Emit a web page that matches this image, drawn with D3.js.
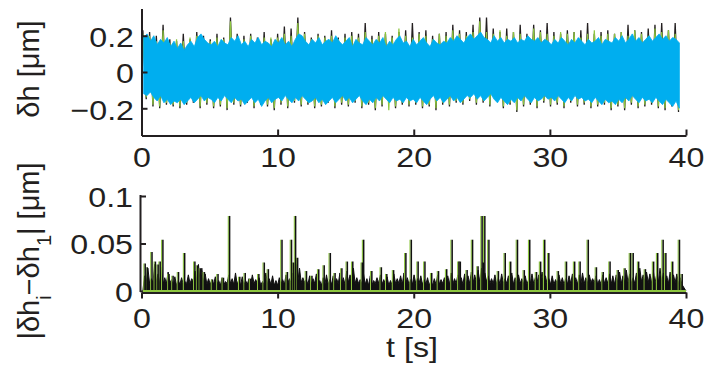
<!DOCTYPE html>
<html>
<head>
<meta charset="utf-8">
<script src="https://cdn.jsdelivr.net/npm/d3@7"></script>
<style>
  html, body { margin: 0; padding: 0; background: #fff; }
  svg { display: block; }
  text { font-family: "Liberation Sans", Arial, Helvetica, sans-serif; fill: #231f20; }
</style>
</head>
<body>
<svg id="chart" width="705" height="370"></svg>
<script>
// ---- time base ----------------------------------------------------------
const tStart = 0.1;          // first sample [s]
const fineStep = 0.2475;     // bin width of the cyan trace / difference peaks [s]
const coarseStep = 0.495;    // bin width of the black and green traces / difference floor [s]

// ---- top panel: height fluctuation δh [µm], per-bin maxima / minima ----
const cyanHigh = [
  0.19,0.21,0.17,0.20,0.15,0.18,0.16,0.19,0.14,0.17,
  0.13,0.16,0.12,0.15,0.17,0.14,0.19,0.21,0.18,0.16,
  0.15,0.17,0.14,0.18,0.16,0.15,0.19,0.17,0.20,0.15,
  0.17,0.14,0.18,0.16,0.19,0.15,0.17,0.16,0.14,0.18,
  0.16,0.19,0.15,0.17,0.14,0.18,0.21,0.20,0.17,0.15,
  0.18,0.16,0.19,0.15,0.17,0.18,0.16,0.20,0.17,0.15,
  0.17,0.19,0.14,0.18,0.16,0.15,0.19,0.17,0.15,0.18,
  0.16,0.19,0.14,0.17,0.15,0.18,0.20,0.16,0.17,0.14,
  0.18,0.15,0.17,0.19,0.16,0.14,0.18,0.16,0.15,0.17,
  0.16,0.19,0.17,0.20,0.18,0.16,0.19,0.21,0.18,0.20,
  0.22,0.19,0.18,0.16,0.20,0.17,0.19,0.16,0.18,0.17,
  0.19,0.16,0.18,0.17,0.20,0.18,0.17,0.19,0.16,0.18,
  0.17,0.15,0.18,0.16,0.19,0.17,0.15,0.18,0.16,0.19,
  0.17,0.15,0.18,0.16,0.17,0.19,0.15,0.18,0.17,0.16,
  0.19,0.17,0.20,0.16,0.18,0.21,0.17,0.19,0.16,0.18,
  0.20,0.17,0.19,0.21,0.18,0.20,0.17,0.19,0.18,0.16
];
const cyanLow = [
  -0.12,-0.13,-0.11,-0.14,-0.16,-0.13,-0.17,-0.15,-0.18,-0.16,
  -0.17,-0.15,-0.18,-0.16,-0.14,-0.17,-0.15,-0.13,-0.16,-0.14,
  -0.15,-0.17,-0.14,-0.16,-0.13,-0.15,-0.17,-0.14,-0.16,-0.15,
  -0.18,-0.16,-0.14,-0.17,-0.15,-0.19,-0.16,-0.14,-0.17,-0.15,
  -0.14,-0.16,-0.13,-0.15,-0.17,-0.14,-0.16,-0.13,-0.15,-0.17,
  -0.16,-0.14,-0.17,-0.15,-0.18,-0.16,-0.14,-0.17,-0.15,-0.13,
  -0.16,-0.14,-0.17,-0.15,-0.13,-0.16,-0.18,-0.15,-0.17,-0.14,
  -0.16,-0.13,-0.15,-0.17,-0.14,-0.16,-0.15,-0.17,-0.14,-0.16,
  -0.15,-0.17,-0.14,-0.16,-0.18,-0.15,-0.13,-0.16,-0.14,-0.17,
  -0.15,-0.13,-0.16,-0.14,-0.17,-0.15,-0.13,-0.14,-0.12,-0.15,
  -0.13,-0.16,-0.14,-0.12,-0.15,-0.17,-0.14,-0.16,-0.18,-0.15,
  -0.17,-0.14,-0.16,-0.13,-0.15,-0.17,-0.14,-0.16,-0.15,-0.13,
  -0.15,-0.14,-0.16,-0.13,-0.15,-0.17,-0.14,-0.16,-0.13,-0.15,
  -0.14,-0.16,-0.15,-0.17,-0.14,-0.16,-0.18,-0.15,-0.17,-0.16,
  -0.18,-0.15,-0.17,-0.14,-0.16,-0.13,-0.15,-0.17,-0.14,-0.16,
  -0.15,-0.17,-0.14,-0.16,-0.18,-0.15,-0.17,-0.19,-0.16,-0.20
];
const blackHigh = [
  0.23,0.22,0.20,0.26,0.18,0.17,0.21,0.18,0.22,0.20,
  0.18,0.21,0.19,0.30,0.21,0.20,0.21,0.19,0.22,0.18,
  0.21,0.25,0.24,0.30,0.22,0.19,0.21,0.20,0.23,0.19,
  0.21,0.22,0.21,0.27,0.20,0.22,0.21,0.20,0.22,0.23,
  0.27,0.22,0.23,0.20,0.21,0.22,0.26,0.23,0.22,0.26,
  0.30,0.30,0.24,0.22,0.24,0.22,0.26,0.21,0.26,0.23,
  0.27,0.22,0.21,0.23,0.22,0.23,0.27,0.21,0.22,0.23,
  0.21,0.22,0.26,0.23,0.22,0.24,0.26,0.27,0.23,0.27
];
const blackLow = [
  -0.15,-0.19,-0.20,-0.18,-0.19,-0.20,-0.18,-0.17,-0.20,-0.18,
  -0.20,-0.19,-0.21,-0.18,-0.19,-0.17,-0.20,-0.18,-0.19,-0.21,
  -0.18,-0.20,-0.17,-0.19,-0.18,-0.20,-0.19,-0.17,-0.20,-0.18,
  -0.19,-0.17,-0.20,-0.18,-0.21,-0.19,-0.17,-0.20,-0.18,-0.19,
  -0.18,-0.20,-0.19,-0.21,-0.18,-0.19,-0.17,-0.18,-0.16,-0.18,
  -0.17,-0.19,-0.16,-0.20,-0.18,-0.22,-0.19,-0.18,-0.20,-0.17,
  -0.19,-0.18,-0.20,-0.17,-0.19,-0.18,-0.20,-0.19,-0.18,-0.21,
  -0.19,-0.21,-0.18,-0.20,-0.19,-0.18,-0.20,-0.21,-0.19,-0.22
];
const greenHigh = [
  0.21,0.20,0.17,0.23,0.16,0.18,0.17,0.19,0.20,0.18,
  0.17,0.19,0.18,0.28,0.19,0.18,0.20,0.17,0.19,0.19,
  0.19,0.21,0.20,0.27,0.21,0.18,0.20,0.19,0.20,0.18,
  0.19,0.20,0.19,0.22,0.18,0.20,0.22,0.19,0.24,0.20,
  0.19,0.21,0.20,0.18,0.21,0.20,0.23,0.21,0.20,0.22,
  0.28,0.22,0.21,0.23,0.20,0.22,0.21,0.19,0.24,0.22,
  0.21,0.20,0.22,0.21,0.22,0.19,0.21,0.23,0.20,0.21,
  0.21,0.22,0.20,0.23,0.21,0.20,0.24,0.22,0.23,0.21
];
const greenLow = [
  -0.14,-0.18,-0.19,-0.17,-0.18,-0.19,-0.17,-0.16,-0.19,-0.17,
  -0.19,-0.18,-0.20,-0.17,-0.18,-0.16,-0.19,-0.17,-0.18,-0.20,
  -0.17,-0.19,-0.16,-0.18,-0.17,-0.19,-0.18,-0.16,-0.19,-0.17,
  -0.18,-0.16,-0.19,-0.17,-0.20,-0.18,-0.21,-0.19,-0.17,-0.18,
  -0.17,-0.19,-0.18,-0.20,-0.17,-0.18,-0.16,-0.17,-0.15,-0.17,
  -0.16,-0.18,-0.15,-0.19,-0.17,-0.21,-0.18,-0.17,-0.19,-0.16,
  -0.18,-0.17,-0.19,-0.16,-0.18,-0.17,-0.19,-0.18,-0.17,-0.20,
  -0.18,-0.20,-0.17,-0.19,-0.18,-0.17,-0.19,-0.20,-0.18,-0.21
];

// ---- bottom panel: |δh_i − δh_1| [µm] ----------------------------------
// dense trace: per fine-bin peaks and per coarse-bin floor
const diffPeak = [
  0.016,0.024,0.013,0.028,0.018,0.025,0.014,0.020,0.012,0.015,
  0.011,0.014,0.010,0.017,0.013,0.021,0.028,0.024,0.018,0.013,
  0.012,0.015,0.011,0.014,0.010,0.017,0.013,0.019,0.012,0.015,
  0.011,0.013,0.017,0.012,0.014,0.010,0.019,0.013,0.016,0.011,
  0.014,0.012,0.017,0.013,0.019,0.028,0.024,0.014,0.012,0.016,
  0.013,0.018,0.011,0.014,0.017,0.012,0.016,0.013,0.019,0.014,
  0.021,0.017,0.024,0.014,0.012,0.018,0.013,0.016,0.011,0.014,
  0.017,0.012,0.015,0.011,0.018,0.013,0.016,0.019,0.014,0.012,
  0.017,0.013,0.016,0.012,0.014,0.011,0.013,0.017,0.012,0.014,
  0.016,0.019,0.013,0.017,0.014,0.018,0.016,0.020,0.017,0.022,
  0.024,0.019,0.016,0.013,0.017,0.014,0.018,0.013,0.016,0.019,
  0.014,0.017,0.013,0.016,0.012,0.018,0.014,0.017,0.020,0.016,
  0.013,0.016,0.012,0.017,0.014,0.013,0.016,0.018,0.014,0.017,
  0.019,0.014,0.017,0.013,0.016,0.012,0.017,0.014,0.018,0.016,
  0.017,0.020,0.016,0.022,0.018,0.014,0.019,0.024,0.017,0.020,
  0.018,0.022,0.017,0.024,0.019,0.016,0.020,0.017,0.018,0.014
];
const diffFloor = [
  0.008,0.009,0.007,0.008,0.006,0.007,0.008,0.010,0.009,0.007,
  0.007,0.006,0.008,0.007,0.006,0.007,0.008,0.006,0.007,0.006,
  0.007,0.008,0.010,0.009,0.007,0.008,0.006,0.007,0.008,0.007,
  0.009,0.008,0.007,0.006,0.008,0.007,0.006,0.008,0.007,0.007,
  0.008,0.007,0.006,0.007,0.008,0.007,0.008,0.007,0.008,0.009,
  0.010,0.008,0.007,0.008,0.007,0.008,0.007,0.008,0.009,0.007,
  0.007,0.008,0.007,0.008,0.007,0.008,0.009,0.007,0.008,0.007,
  0.008,0.009,0.008,0.010,0.009,0.008,0.009,0.008,0.009,0.007
];
// isolated excursions: time [s] and height [µm]
const spikeTime = [
  0.25,0.4,0.75,1.0,1.2,1.35,1.55,2.0,2.3,2.7,3.15,3.9,4.1,4.3,4.6,5.2,5.6,6.0,6.45,
  7.2,7.6,8.0,8.6,9.0,9.3,10.3,10.7,11.0,11.15,11.3,11.45,12.1,12.5,13.0,13.4,13.85,14.2,14.7,
  15.1,15.5,16.2,16.3,16.9,17.6,18.0,18.5,19.4,19.8,20.3,20.8,21.3,21.8,22.4,22.8,23.3,23.4,
  23.9,24.3,24.7,25.0,25.1,25.2,25.5,26.2,26.7,27.1,27.6,28.1,28.5,29.0,29.3,29.6,29.9,30.6,31.2,31.8,
  32.2,32.8,33.4,33.9,34.4,35.0,35.5,35.9,36.1,36.5,37.0,37.6,37.9,38.3,38.5,39.0,39.5,39.7
];
const spikeValue = [
  0.029,0.025,0.041,0.031,0.028,0.031,0.054,0.018,0.016,0.020,0.040,0.031,0.027,0.024,0.020,0.012,0.018,0.014,0.079,
  0.015,0.019,0.013,0.018,0.030,0.023,0.054,0.020,0.054,0.030,0.079,0.035,0.021,0.016,0.023,0.027,0.040,0.019,0.024,
  0.031,0.031,0.030,0.054,0.021,0.025,0.018,0.022,0.040,0.054,0.031,0.031,0.019,0.021,0.023,0.054,0.031,0.031,
  0.022,0.054,0.026,0.079,0.030,0.079,0.054,0.021,0.040,0.031,0.054,0.022,0.054,0.020,0.031,0.054,0.040,0.021,0.031,0.031,
  0.031,0.054,0.025,0.020,0.031,0.022,0.024,0.040,0.040,0.031,0.023,0.031,0.040,0.054,0.040,0.031,0.054,0.018
];
// reference trace |δh_1 − δh_1|
const refTime = [0.1, 40];
const refDiff = [0, 0];

// ---- ticks ---------------------------------------------------------------
const timeTicks = [0, 10, 20, 30, 40];
const heightTicks = [-0.2, 0, 0.2];
const diffTicks = [0, 0.05, 0.1];

// ---- colours -------------------------------------------------------------
const INK = "#231f20", CYAN = "#00aeef", GREEN = "#8dc63f";
const SX = 1.13; // horizontal stretch of the label face

const svg = d3.select("#chart");

const x = d3.scaleLinear().domain([0, 40]).range([141.5, 686]);
const yTop = d3.scaleLinear().domain([-0.35, 0.35]).range([135.5, 8.5]);
const yBot = d3.scaleLinear().domain([0, 0.1]).range([291, 196]);

// zig-zag between per-bin maxima and minima
function zigzag(high, low, step) {
  const pts = [];
  high.forEach((h, i) => {
    const t = tStart + i * step;
    pts.push([t, h]);
    pts.push([t + step / 2, low[i]]);
  });
  return pts;
}

// ---------------- top panel ----------------
const gTop = svg.append("g");
const lineTop = d3.line().x(d => x(d[0])).y(d => yTop(d[1]));

gTop.append("path").datum(zigzag(blackHigh, blackLow, coarseStep))
  .attr("d", lineTop).attr("fill", "none").attr("stroke", INK).attr("stroke-width", 1.3);
gTop.append("path").datum(zigzag(greenHigh, greenLow, coarseStep))
  .attr("d", lineTop).attr("fill", "none").attr("stroke", GREEN).attr("stroke-width", 1.2);

// cyan band: envelope between the per-bin maxima and minima
const cyanBins = cyanHigh.map((h, i) => ({ t: tStart + i * fineStep + fineStep / 4, hi: h, lo: cyanLow[i] }));
gTop.append("path").datum(cyanBins)
  .attr("d", d3.area().x(d => x(d.t)).y0(d => yTop(d.lo)).y1(d => yTop(d.hi)))
  .attr("fill", CYAN).attr("stroke", CYAN).attr("stroke-width", 0.8);

// ---------------- bottom panel ----------------
const gBot = svg.append("g");
const densePts = [[tStart, 0]];
diffPeak.forEach((v, i) => {
  const t = tStart + i * fineStep;
  densePts.push([t + fineStep / 2, v]);
  densePts.push([t + fineStep, diffFloor[Math.floor(i / 2)]]);
});
densePts.push([40, 0]);
gBot.append("path").datum(densePts)
  .attr("d", d3.area().x(d => x(d[0])).y0(yBot(0)).y1(d => yBot(d[1])))
  .attr("fill", "#111").attr("stroke", "#111").attr("stroke-width", 1);

const spikes = spikeTime.map((t, i) => [t, spikeValue[i]]);
gBot.selectAll("line.halo").data(spikes).join("line").attr("class", "halo")
  .attr("x1", d => x(d[0]) - 1).attr("x2", d => x(d[0]) - 1)
  .attr("y1", yBot(0)).attr("y2", d => yBot(d[1]))
  .attr("stroke", GREEN).attr("stroke-width", 1.1);
gBot.selectAll("line.spike").data(spikes).join("line").attr("class", "spike")
  .attr("x1", d => x(d[0]) + 0.3).attr("x2", d => x(d[0]) + 0.3)
  .attr("y1", yBot(0)).attr("y2", d => yBot(d[1]))
  .attr("stroke", "#111").attr("stroke-width", 1.5);

// ---------------- axes ----------------
function styleAxis(g) {
  g.select(".domain").attr("stroke", INK).attr("stroke-width", 2);
  g.selectAll(".tick line").attr("stroke", INK).attr("stroke-width", 2);
  g.selectAll("text").attr("font-family", null).attr("font-size", null)
    .style("font-size", "28.5px").attr("fill", INK);
}
const fmt = d3.format("~g");

// top: y
const axTopY = svg.append("g").attr("transform", "translate(141.5,0)")
  .call(d3.axisLeft(yTop).tickValues(heightTicks).tickFormat(fmt).tickSize(-6).tickSizeOuter(0));
styleAxis(axTopY);
axTopY.selectAll("text").attr("x", -7.5 / SX).attr("dy", "0.38em")
  .attr("transform", `scale(${SX},1)`);

// top: x
const axTopX = svg.append("g").attr("transform", "translate(0,135.5)")
  .call(d3.axisBottom(x).tickValues(timeTicks).tickFormat(fmt).tickSize(-6).tickSizeOuter(0));
styleAxis(axTopX);
axTopX.selectAll("text").attr("y", 11).attr("transform", `scale(${SX},1)`)
  .attr("x", 0);

// bottom: y
const axBotY = svg.append("g").attr("transform", "translate(140.5,0)")
  .call(d3.axisLeft(yBot).tickValues(diffTicks).tickFormat(fmt).tickSize(-5.5).tickSizeOuter(0));
styleAxis(axBotY);
axBotY.select(".domain").attr("d", `M0,${yBot(0) + 1}V${yBot(0.1) - 1}`);
axBotY.selectAll("text").attr("x", -7.5 / SX).attr("dy", "0.36em")
  .attr("transform", `scale(${SX},1)`);

// bottom: x
const axBotX = svg.append("g").attr("transform", `translate(0,${yBot(0) + 1.5})`)
  .call(d3.axisBottom(x).tickValues(timeTicks).tickFormat(fmt).tickSize(6).tickSizeOuter(0));
styleAxis(axBotX);
axBotX.selectAll("text").attr("y", 15).attr("transform", `scale(${SX},1)`);

// reference trace drawn over the base line
gBot.append("path").datum(refTime.map((t, i) => [t, refDiff[i]]))
  .attr("d", d3.line().x(d => x(d[0])).y(d => yBot(d[1]) + 0.5))
  .attr("fill", "none").attr("stroke", GREEN).attr("stroke-width", 3.2);
gBot.raise();
axBotX.raise();

// ---------------- axis titles ----------------
svg.append("text").attr("transform", `translate(412,356.5) scale(${SX},1)`)
  .attr("text-anchor", "middle").style("font-size", "28.5px").text("t [s]");

svg.append("text").attr("transform", "translate(39,69) rotate(-90)")
  .attr("text-anchor", "middle").style("font-size", "29px").text("δh [μm]");

const yl = svg.append("text").attr("transform", "translate(39,251) rotate(-90)")
  .attr("text-anchor", "middle").style("font-size", "29px");
yl.append("tspan").text("|δh");
yl.append("tspan").attr("dy", 12).style("font-size", "20px").text("i");
yl.append("tspan").attr("dy", -12).text("−δh");
yl.append("tspan").attr("dy", 12).style("font-size", "20px").text("1");
yl.append("tspan").attr("dy", -12).text("| [μm]");
</script>
</body>
</html>
